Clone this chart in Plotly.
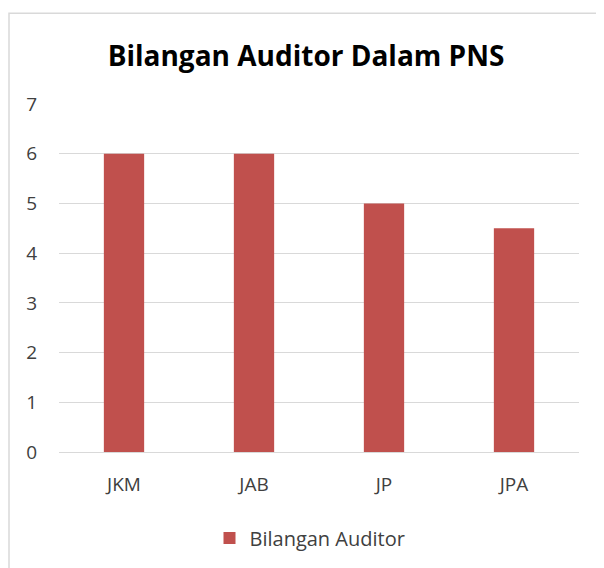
import plotly.graph_objects as go

categories = ["JKM", "JAB", "JP", "JPA"]
values = [6, 6, 5, 4.5]
series_name = "Bilangan Auditor"
title_text = "Bilangan Auditor Dalam PNS"

# page is offset by the 8px body margin
OFF = 8
W, H = 596, 560
L, R, T, B = 51, 25, 96, 115
pw, ph = W - L - R, H - T - B

def px_x(page_x):
    return (page_x - OFF - L) / pw

def px_y(page_y):
    return (H - B - (page_y - OFF)) / ph

FONT = "Open Sans, Noto Sans, sans-serif"

fig = go.Figure()
fig.add_trace(go.Bar(
    x=categories, y=values, name=series_name,
    marker=dict(color="#C0504D", line=dict(width=0)),
))

fig.update_layout(
    width=W, height=H,
    margin=dict(l=L, r=R, t=T, b=B),
    paper_bgcolor="white", plot_bgcolor="white",
    bargap=0.69,
    showlegend=True,
    title=dict(text="<b>" + title_text + "</b>", xref="container", x=(306 - OFF) / W,
               xanchor="center", y=1 - (56 - OFF) / H, yanchor="middle",
               font=dict(family=FONT, size=28, color="#000000")),
    legend=dict(orientation="h", x=px_x(310), xanchor="center", y=px_y(538), yanchor="middle",
                font=dict(family=FONT, size=20, color="#404040")),
    font=dict(family=FONT, size=19, color="#404040"),
    xaxis=dict(showgrid=False, showline=True, linecolor="#D9D9D9", linewidth=1,
               ticks="", ticklabelstandoff=15,
               tickfont=dict(size=19, color="#404040"), fixedrange=True),
    yaxis=dict(range=[0, 7], dtick=1, showgrid=True, gridcolor="#D9D9D9", gridwidth=1,
               zeroline=False, showline=False, ticks="", ticklabelstandoff=21,
               tickfont=dict(size=19, color="#404040"), fixedrange=True),
    shapes=[dict(type="rect", xref="paper", yref="paper",
                 x0=px_x(9), x1=px_x(660), y0=px_y(640), y1=px_y(13),
                 line=dict(color="#D9D9D9", width=1.5), fillcolor="rgba(0,0,0,0)",
                 layer="below")],
)

fig.write_html("out.html")
